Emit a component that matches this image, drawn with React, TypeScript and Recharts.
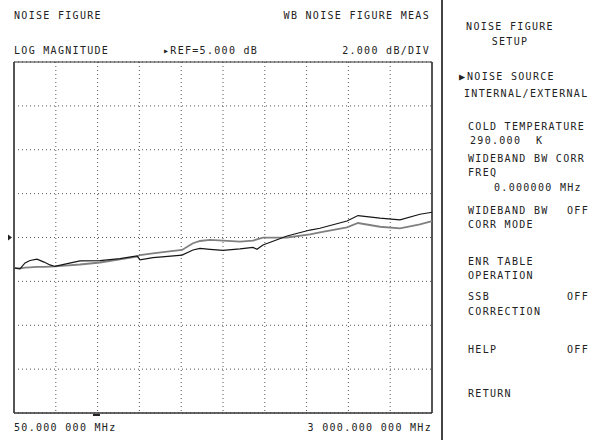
import React from "react";
import { LineChart, Line, XAxis, YAxis, CartesianGrid, ReferenceLine, ReferenceDot } from "recharts";

// sweep points (MHz) and the two noise figure traces (dB)
const FREQ_MHZ = [50, 92, 128, 163, 212, 262, 304, 339, 410, 516, 657, 798, 918, 939, 1031, 1116, 1236, 1313, 1363, 1433, 1525, 1645, 1737, 1765, 1807, 1977, 2139, 2209, 2400, 2478, 2633, 2774, 2915, 3000];
const NF_DARK = [3.61, 3.57, 3.84, 3.95, 4.01, 3.88, 3.75, 3.68, 3.79, 3.93, 3.95, 4.04, 4.16, 3.98, 4.08, 4.13, 4.2, 4.43, 4.5, 4.46, 4.41, 4.48, 4.55, 4.46, 4.66, 5.07, 5.34, 5.42, 5.75, 6.0, 5.88, 5.8, 6.06, 6.15];
const NF_GRAY = [3.61, 3.59, 3.63, 3.64, 3.66, 3.66, 3.67, 3.68, 3.72, 3.77, 3.86, 4.0, 4.13, 4.2, 4.28, 4.34, 4.43, 4.74, 4.84, 4.89, 4.86, 4.81, 4.86, 4.91, 4.99, 5.0, 5.14, 5.23, 5.46, 5.66, 5.49, 5.42, 5.6, 5.75];

const X_GRID = [50, 345, 640, 935, 1230, 1525, 1820, 2115, 2410, 2705, 3000];
const Y_GRID = [-3, -1, 1, 3, 5, 7, 9, 11, 13];
const REF_DB = 5;
const MARKER_MHZ = 632;

const data = FREQ_MHZ.map((f, i) => ({ f, dark: NF_DARK[i], gray: NF_GRAY[i] }));

function T({ x, y, right, children }: { x: number; y: number; right?: boolean; children: React.ReactNode }) {
  const style: React.CSSProperties = {
    position: "absolute",
    top: y - 7,
    height: 14,
    lineHeight: "14px",
    whiteSpace: "pre",
  };
  if (right) style.right = 592 - x;
  else style.left = x;
  return <div style={style}>{children}</div>;
}

function RefArrow(props: any) {
  const { x, y } = props.viewBox;
  return <path d={`M${x - 6},${y - 3} L${x - 2},${y} L${x - 6},${y + 3} Z`} fill="#222" />;
}

function MarkerDash(props: any) {
  const { cx, cy } = props;
  return <rect x={cx - 3.5} y={cy + 1} width={7} height={2} fill="#222" />;
}

export default function App() {
  return (
    <div
      style={{
        position: "absolute",
        left: 0,
        top: 0,
        width: 592,
        height: 440,
        background: "#fff",
        overflow: "hidden",
        fontFamily: "'DejaVu Sans Mono', monospace",
        fontSize: 10,
        letterSpacing: 1.3,
        color: "#222",
      }}
    >
      <div style={{ position: "absolute", left: 0, top: 0 }}>
        <LineChart width={592} height={440} data={data} margin={{ top: 62, right: 160, bottom: 27, left: 14 }}>
          <XAxis dataKey="f" type="number" domain={[50, 3000]} ticks={X_GRID} hide />
          <YAxis type="number" domain={[-3, 13]} ticks={Y_GRID} hide />
          <CartesianGrid stroke="#555" strokeDasharray="1 3" />
          <ReferenceLine x={50} stroke="#555" strokeWidth={2} />
          <ReferenceLine x={3000} stroke="#555" strokeWidth={2} />
          <ReferenceLine y={13} stroke="#333" strokeWidth={1} />
          <ReferenceLine y={-3} stroke="#333" strokeWidth={1.5} />
          <ReferenceLine y={REF_DB} stroke="none" label={<RefArrow />} />
          <ReferenceDot x={MARKER_MHZ} y={-3} shape={<MarkerDash />} />
          <Line type="linear" dataKey="gray" stroke="#808080" strokeWidth={1.8} dot={false} isAnimationActive={false} />
          <Line type="linear" dataKey="dark" stroke="#151515" strokeWidth={1.2} dot={false} isAnimationActive={false} />
        </LineChart>
      </div>

      <T x={14} y={16}>NOISE FIGURE</T>
      <T x={430} y={16} right>WB NOISE FIGURE MEAS</T>
      <T x={14} y={51}>LOG MAGNITUDE</T>
      <T x={163} y={51}>▸REF=5.000 dB</T>
      <T x={430} y={51} right>2.000 dB/DIV</T>
      <T x={14} y={428}>50.000 000 MHz</T>
      <T x={432} y={428} right>3 000.000 000 MHz</T>

      <div style={{ position: "absolute", left: 441, top: 0, width: 2, height: 440, background: "#444" }} />

      <div style={{ position: "absolute", left: 443, width: 134, top: 19, textAlign: "center", lineHeight: "15px" }}>
        NOISE FIGURE
        <br />
        SETUP
      </div>
      <T x={459} y={77}>▶</T>
      <T x={467} y={77}>NOISE SOURCE</T>
      <T x={464} y={94}>INTERNAL/EXTERNAL</T>
      <T x={468} y={127}>COLD TEMPERATURE</T>
      <T x={470} y={141}>290.000  K</T>
      <T x={468} y={159}>WIDEBAND BW CORR</T>
      <T x={468} y={173}>FREQ</T>
      <T x={494} y={188}>0.000000 MHz</T>
      <T x={468} y={211}>WIDEBAND BW</T>
      <T x={567} y={211}>OFF</T>
      <T x={468} y={225}>CORR MODE</T>
      <T x={468} y={262}>ENR TABLE</T>
      <T x={468} y={276}>OPERATION</T>
      <T x={468} y={297}>SSB</T>
      <T x={567} y={297}>OFF</T>
      <T x={468} y={312}>CORRECTION</T>
      <T x={468} y={350}>HELP</T>
      <T x={567} y={350}>OFF</T>
      <T x={468} y={394}>RETURN</T>
    </div>
  );
}
